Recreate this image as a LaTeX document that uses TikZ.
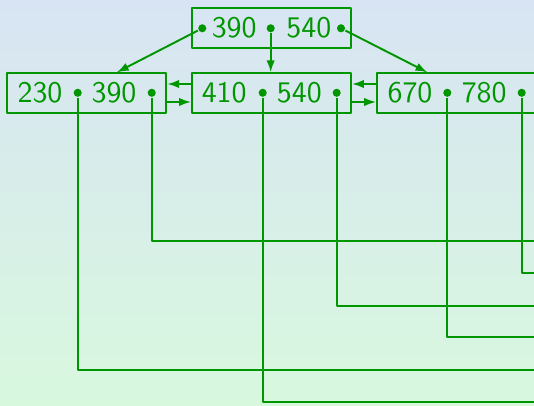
\documentclass[tikz,border=0pt]{standalone}
\usetikzlibrary{arrows.meta}
\definecolor{keygreen}{RGB}{0,150,0}
\definecolor{bgtop}{RGB}{216,228,243}
\definecolor{bgbottom}{RGB}{216,248,222}
\begin{document}
\begin{tikzpicture}[>={Latex[length=4bp,width=2.8bp]},line join=bevel,line width=0.65pt,
  box/.style={draw=keygreen,minimum width=53bp,minimum height=13.1bp,inner sep=0pt},
  key/.style={text=keygreen,font=\sffamily,inner sep=0pt},
  ptr/.style={circle,fill=keygreen,inner sep=0pt,minimum size=2.7bp},
  link/.style={keygreen}]
%%
\useasboundingbox (0bp,0bp) rectangle (178bp,135.33bp);
\clip (0bp,0bp) rectangle (178bp,135.33bp);
\shade [top color=bgtop,bottom color=bgbottom] (0bp,0bp) rectangle (178bp,135.33bp);
%
\node (box_0) at (90.56bp,126.0bp) [box] {};
  \node (box_1) at (28.9bp,104.33bp) [box] {};
  \node (box_2) at (90.5bp,104.33bp) [box] {};
  \node (box_3) at (152.2bp,104.33bp) [box] {};
%
\node (key_0a) at (78.07bp,126.0bp) [key] {390};
  \node (key_0b) at (102.93bp,126.0bp) [key] {540};
  \node (key_1a) at (13.33bp,104.33bp) [key] {230};
  \node (key_1b) at (38.0bp,104.33bp) [key] {390};
  \node (key_2a) at (74.73bp,104.33bp) [key] {410};
  \node (key_2b) at (99.77bp,104.33bp) [key] {540};
  \node (key_3a) at (136.67bp,104.33bp) [key] {670};
  \node (key_3b) at (161.4bp,104.33bp) [key] {780};
%
\node (ptr_0a) at (67.43bp,125.9bp) [ptr] {};
  \node (ptr_0b) at (90.23bp,125.9bp) [ptr] {};
  \node (ptr_0c) at (113.67bp,125.9bp) [ptr] {};
  \node (ptr_1a) at (25.9bp,104.4bp) [ptr] {};
  \node (ptr_1b) at (50.57bp,104.4bp) [ptr] {};
  \node (ptr_2a) at (87.57bp,104.4bp) [ptr] {};
  \node (ptr_2b) at (112.23bp,104.4bp) [ptr] {};
  \node (ptr_3a) at (149.1bp,104.4bp) [ptr] {};
  \node (ptr_3b) at (173.9bp,104.4bp) [ptr] {};
%
\coordinate (end_0) at (181bp,55.1bp);
  \coordinate (end_1) at (181bp,44.43bp);
  \coordinate (end_2) at (181bp,33.43bp);
  \coordinate (end_3) at (181bp,22.9bp);
  \coordinate (end_4) at (181bp,11.9bp);
  \coordinate (end_5) at (181bp,1.23bp);
%
\draw [link,->] (ptr_0a) -- ([xshift=10bp]box_1.north);
  \draw [link,->] (ptr_0b) -- (ptr_0b |- box_2.north);
  \draw [link,->] (ptr_0c) -- ([xshift=-9.7bp]box_3.north);
%
\draw [link,->] ([yshift=-3bp]box_1.east) -- ([yshift=-3bp]box_2.west);
  \draw [link,->] ([yshift=3bp]box_2.west) -- ([yshift=3bp]box_1.east);
  \draw [link,->] ([yshift=-3bp]box_2.east) -- ([yshift=-3bp]box_3.west);
  \draw [link,->] ([yshift=3bp]box_3.west) -- ([yshift=3bp]box_2.east);
%
\draw [link] (ptr_1b) |- (end_0);
  \draw [link] (ptr_3b) |- (end_1);
  \draw [link] (ptr_2b) |- (end_2);
  \draw [link] (ptr_3a) |- (end_3);
  \draw [link] (ptr_1a) |- (end_4);
  \draw [link] (ptr_2a) |- (end_5);
%
\end{tikzpicture}
\end{document}
